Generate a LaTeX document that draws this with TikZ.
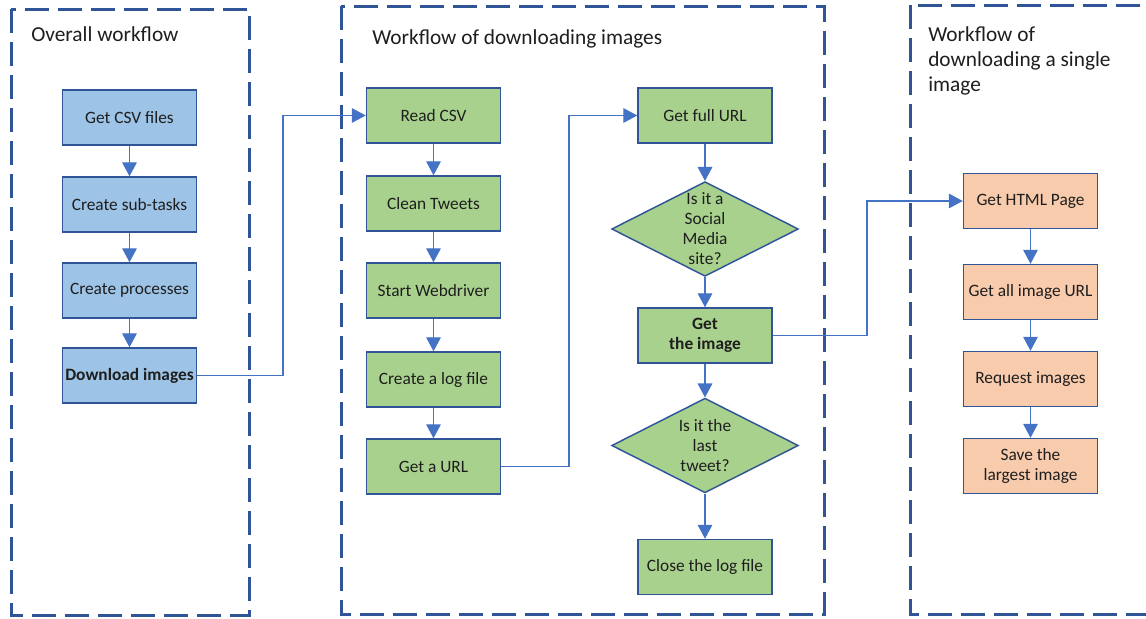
\documentclass[tikz,border=0pt]{standalone}
\usepackage{fontspec}
\setmainfont{Carlito}
\usetikzlibrary{arrows.meta,shapes.geometric}
\definecolor{bord}{HTML}{2F5597}
\definecolor{fblue}{HTML}{9DC3E6}
\definecolor{fgreen}{HTML}{A9D18E}
\definecolor{forange}{HTML}{F8CBAD}
\definecolor{conncol}{HTML}{4472C4}
\definecolor{txt}{HTML}{1E1E1E}
\begin{document}
\begin{tikzpicture}[x=0.75pt,y=-0.75pt,
 every node/.style={text=txt, font=\fontsize{13}{15}\selectfont, inner sep=0pt},
 box/.style={draw=bord, line width=1.1pt, minimum width=100.5pt, minimum height=41.25pt, align=center},
 bbox/.style={box, fill=fblue},
 gbox/.style={box, fill=fgreen},
 obox/.style={box, fill=forange},
 diam/.style={diamond, draw=bord, line width=1.1pt, fill=fgreen, minimum width=140pt, minimum height=71pt},
 frame/.style={draw=bord, line width=2.25pt, dash pattern=on 18pt off 6.75pt},
 arrowc/.style={draw=conncol, line width=0.9pt, -{Triangle[width=11pt,length=10.5pt]}},
 title/.style={font=\fontsize{16}{18.75}\selectfont, align=left, anchor=base west}
]
\useasboundingbox (0,0) rectangle (1146,618);
\clip (0,0) rectangle (1146,618);

% frames
\draw[frame] (11,9) rectangle (249,615);
\draw[frame] (341,6) rectangle (824,614);
\draw[frame] (910,5) rectangle (1175,614);

% titles
\node[title] (t1) at (31,41) {Overall workflow};
\node[title] (t2) at (372,44) {Workflow of downloading images};
\node[title] (t3) at (928,91) {Workflow of\\downloading a single\\image};

% column 1
\node[bbox] (a1) at (129.5,117.5) {Get CSV files};
\node[bbox] (a2) at (129.5,204.5) {Create sub-tasks};
\node[bbox] (a3) at (129.5,290.5) {Create processes};
\node[bbox] (a4) at (129.5,375.5) {\bfseries Download images};

% column 2
\node[gbox] (b1) at (433.5,115.5) {Read CSV};
\node[gbox] (b2) at (433.5,203.5) {Clean Tweets};
\node[gbox] (b3) at (433.5,290.5) {Start Webdriver};
\node[gbox] (b4) at (433.5,379.5) {Create a log file};
\node[gbox] (b5) at (433.5,466.5) {Get a URL};

% column 3
\node[gbox] (c1) at (705,115.5) {Get full URL};
\node[diam] (d1) at (705,229) {};
\node[align=center] (d1t) at (d1) {Is it a\\Social\\Media\\site?};
\node[gbox] (c2) at (705,335.5) {\bfseries Get\\\bfseries the image};
\node[diam] (d2) at (705,445.5) {};
\node[align=center] (d2t) at (d2) {Is it the\\last\\tweet?};
\node[gbox] (c3) at (705,567) {Close the log file};

% column 4
\node[obox] (e1) at (1030.5,201) {Get HTML Page};
\node[obox] (e2) at (1030.5,292) {Get all image URL};
\node[obox] (e3) at (1030.5,379) {Request images};
\node[obox] (e4) at (1030.5,466) {Save the\\largest image};

% connectors
\draw[arrowc] (a1) -- (a2);
\draw[arrowc] (a2) -- (a3);
\draw[arrowc] (a3) -- (a4);
\draw[arrowc] (b1) -- (b2);
\draw[arrowc] (b2) -- (b3);
\draw[arrowc] (b3) -- (b4);
\draw[arrowc] (b4) -- (b5);
\draw[arrowc] (c1.south) -- (d1.north);
\draw[arrowc] (d1.south) -- (c2.north);
\draw[arrowc] (c2.south) -- (d2.north);
\draw[arrowc] (d2.south) -- (c3.north);
\draw[arrowc] (e1) -- (e2);
\draw[arrowc] (e2) -- (e3);
\draw[arrowc] (e3) -- (e4);
\draw[arrowc] (a4.east) -- (283,375.5) |- (b1.west);
\draw[arrowc] (b5.east) -- (569,466.5) |- (c1.west);
\draw[arrowc] (c2.east) -- (867,335.5) |- (e1.west);
\end{tikzpicture}
\end{document}
